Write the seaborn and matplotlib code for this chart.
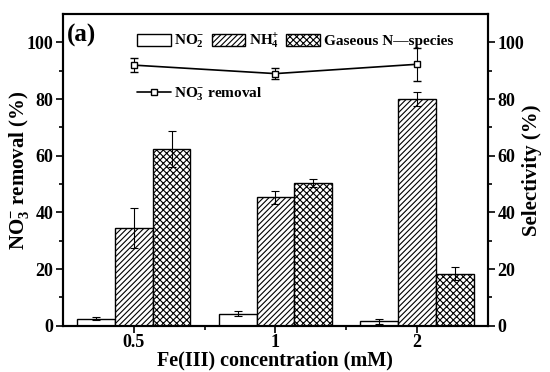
import numpy as np
import pandas as pd
import seaborn as sns
import matplotlib.pyplot as plt
from matplotlib.patches import Patch
from matplotlib.lines import Line2D

# data
conc = ["0.5", "1", "2"]
species = ["NO$_2^{-}$", "NH$_4^{+}$", "Gaseous N\u2014species"]
no2 = [2.5, 4.3, 1.5]
no2_err = [0.5, 1.0, 1.0]
nh4 = [34.5, 45.3, 80.0]
nh4_err = [7.0, 2.3, 2.5]
gas = [62.5, 50.3, 18.3]
gas_err = [6.3, 1.5, 2.3]
removal = [92.0, 89.0, 92.3]
removal_err = [2.5, 2.0, 5.9]

sns.set_style("ticks", {"axes.edgecolor": "black", "text.color": "black",
                        "axes.labelcolor": "black", "xtick.color": "black",
                        "ytick.color": "black"})
plt.rcParams["font.family"] = ["Liberation Serif", "DejaVu Serif"]
plt.rcParams["font.weight"] = "bold"
plt.rcParams["mathtext.fontset"] = "custom"
plt.rcParams["mathtext.rm"] = "Liberation Serif:bold"
plt.rcParams["mathtext.it"] = "Liberation Serif:bold"
plt.rcParams["mathtext.bf"] = "Liberation Serif:bold"
plt.rcParams["hatch.linewidth"] = 0.8

df = pd.DataFrame({
    "conc": conc * 3,
    "species": [species[0]] * 3 + [species[1]] * 3 + [species[2]] * 3,
    "value": no2 + nh4 + gas,
})
errs = [no2_err, nh4_err, gas_err]
hatches = ["", "//////", "xxxxx"]

fig = plt.figure(figsize=(5.5, 3.72), dpi=100)
ax = fig.add_axes([0.1145, 0.1245, 0.7725, 0.8375])
ax2 = ax.twinx()

# bars on the selectivity axis
sns.barplot(data=df, x="conc", y="value", hue="species",
            order=conc, hue_order=species, ax=ax2,
            palette=["white"] * 3, edgecolor="black", linewidth=1,
            errorbar=None, legend=False)
bars = list(ax2.patches)
for i in range(3):
    for j in range(3):
        p = bars[i * 3 + j]
        p.set_hatch(hatches[i])
        cx = p.get_x() + p.get_width() / 2
        ax2.errorbar(cx, p.get_height(), yerr=errs[i][j], color="black",
                     capsize=3, elinewidth=0.8, capthick=0.8)

# removal line on the left axis
ax.errorbar(range(3), removal, yerr=removal_err, color="black", lw=1.2,
            marker="s", ms=5, mfc="white", mec="black", mew=1,
            capsize=3, elinewidth=0.8, capthick=0.8, zorder=5)
ax.set_zorder(ax2.get_zorder() + 1)
ax.patch.set_visible(False)

for a in (ax, ax2):
    a.set_ylim(0, 110)
    a.set_yticks([0, 20, 40, 60, 80, 100])
    a.set_yticks(np.arange(10, 110, 20), minor=True)
    a.tick_params(axis="y", which="major", length=5, width=1.2, labelsize=13, pad=2)
    a.tick_params(axis="y", which="minor", length=3, width=1.2)
    for s in a.spines.values():
        s.set_linewidth(1.5)
        s.set_color("black")
ax.set_xlim(-0.5, 2.5)
ax2.set_xlim(-0.5, 2.5)
ax.set_xticks(range(3))
ax.set_xticklabels(conc)
ax.set_xticks([0.5, 1.5], minor=True)
ax.tick_params(axis="x", which="major", length=5, width=1.2, labelsize=13, pad=1)
ax.tick_params(axis="x", which="minor", length=3, width=1.2)
ax2.tick_params(axis="x", length=0)

ax.set_xlabel("Fe(III) concentration (mM)", fontsize=14.5, fontweight="bold")
ax.xaxis.set_label_coords(0.5, -0.078)
ax.set_ylabel("NO$_3^{\\mathbf{-}}$ removal (%)", fontsize=15, fontweight="bold")
ax.yaxis.set_label_coords(-0.075, 0.5)
ax2.set_ylabel("Selectivity (%)", fontsize=15, fontweight="bold")
ax2.yaxis.set_label_coords(1.08, 0.5)
ax2.set_xlabel("")

ax.text(0.01, 0.97, "(a)", transform=ax.transAxes, fontsize=18,
        fontweight="bold", va="top", ha="left")

handles = [Patch(facecolor="white", edgecolor="black", hatch=h) for h in hatches]
leg1 = ax.legend(handles, species, ncol=3, loc="center left",
                 bbox_to_anchor=(0.174, 0.913), frameon=False, fontsize=11,
                 handlelength=2.2, handleheight=0.8, columnspacing=0.45,
                 handletextpad=0.25, borderaxespad=0, borderpad=0)
ax.add_artist(leg1)
line_h = Line2D([], [], color="black", lw=1.2, marker="s", ms=5,
                mfc="white", mec="black")
ax.legend([line_h], ["NO$_3^{-}$ removal"], loc="center left",
          bbox_to_anchor=(0.174, 0.742), frameon=False, fontsize=11,
          handlelength=2.2, handletextpad=0.25, borderaxespad=0, borderpad=0)

fig.savefig("out.png", dpi=100)
